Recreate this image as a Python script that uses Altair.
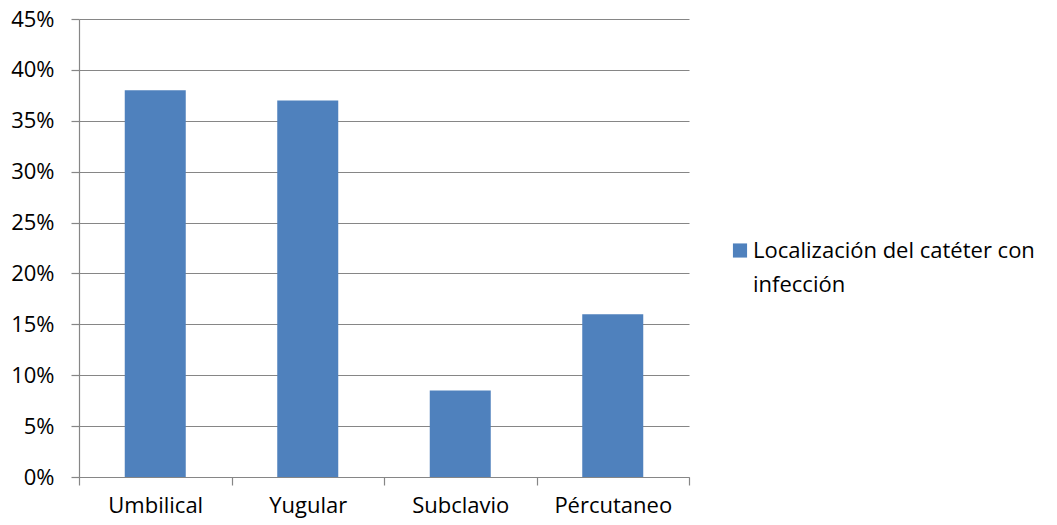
import altair as alt
import pandas as pd

# Catheter site share among infected catheters
sites = ["Umbilical", "Yugular", "Subclavio", "Pércutaneo"]
shares = [0.38, 0.37, 0.085, 0.16]
series_name = "Localización del catéter con infección"
series_lines = "Localización del catéter con\ninfección"

df = pd.DataFrame({"sitio": sites, "valor": shares, "serie": [series_name] * len(sites)})
legend_df = pd.DataFrame({"serie": [series_name], "etiqueta": [series_lines]})

FONT = "Open Sans"
GRID = "#868686"
BLUE = "#4F81BD"

color_scale = alt.Scale(domain=[series_name], range=[BLUE])

# Bars take 40% of each category slot; ticks mark the slot boundaries
bars = (
    alt.Chart(df)
    .mark_bar(width=alt.RelativeBandSize(0.4))
    .encode(
        x=alt.X(
            "sitio:N",
            sort=sites,
            title=None,
            scale=alt.Scale(paddingInner=0, paddingOuter=0),
            axis=alt.Axis(
                labelAngle=0,
                ticks=True,
                tickBand="extent",
                tickSize=8,
                tickColor=GRID,
                domainColor=GRID,
                labelPadding=10,
                labelFontSize=22,
                labelFont=FONT,
                labelColor="#000000",
                grid=False,
            ),
        ),
        y=alt.Y(
            "valor:Q",
            title=None,
            scale=alt.Scale(domain=[0, 0.45], nice=False),
            axis=alt.Axis(
                format=".0%",
                values=[i * 0.05 for i in range(10)],
                tickSize=8,
                tickColor=GRID,
                domainColor=GRID,
                gridColor=GRID,
                gridWidth=1.2,
                labelPadding=17,
                labelFontSize=22,
                labelFont=FONT,
                labelColor="#000000",
            ),
        ),
        color=alt.Color("serie:N", scale=color_scale, legend=None),
    )
)

# Series key to the right of the plot, with a two-line label
key_swatch = (
    alt.Chart(legend_df)
    .mark_square(size=200, opacity=1)
    .encode(
        x=alt.value(661),
        y=alt.value(231.5),
        color=alt.Color("serie:N", scale=color_scale, legend=None),
    )
)
key_text = (
    alt.Chart(legend_df)
    .mark_text(
        align="left",
        baseline="alphabetic",
        lineBreak="\n",
        lineHeight=34,
        font=FONT,
        fontSize=22,
        color="#000000",
    )
    .encode(x=alt.value(674), y=alt.value(238.5), text="etiqueta:N")
)

chart = (
    alt.layer(bars, key_swatch, key_text)
    .properties(
        width=610,
        height=458,
        padding={"left": 79, "top": 19, "right": 368, "bottom": 48},
        autosize=alt.AutoSizeParams(type="none"),
    )
    .configure_view(stroke=None)
    .configure_axis(domainWidth=1.2, tickWidth=1.2)
)

chart.save("out.html", embed_options={"renderer": "svg", "actions": False})
